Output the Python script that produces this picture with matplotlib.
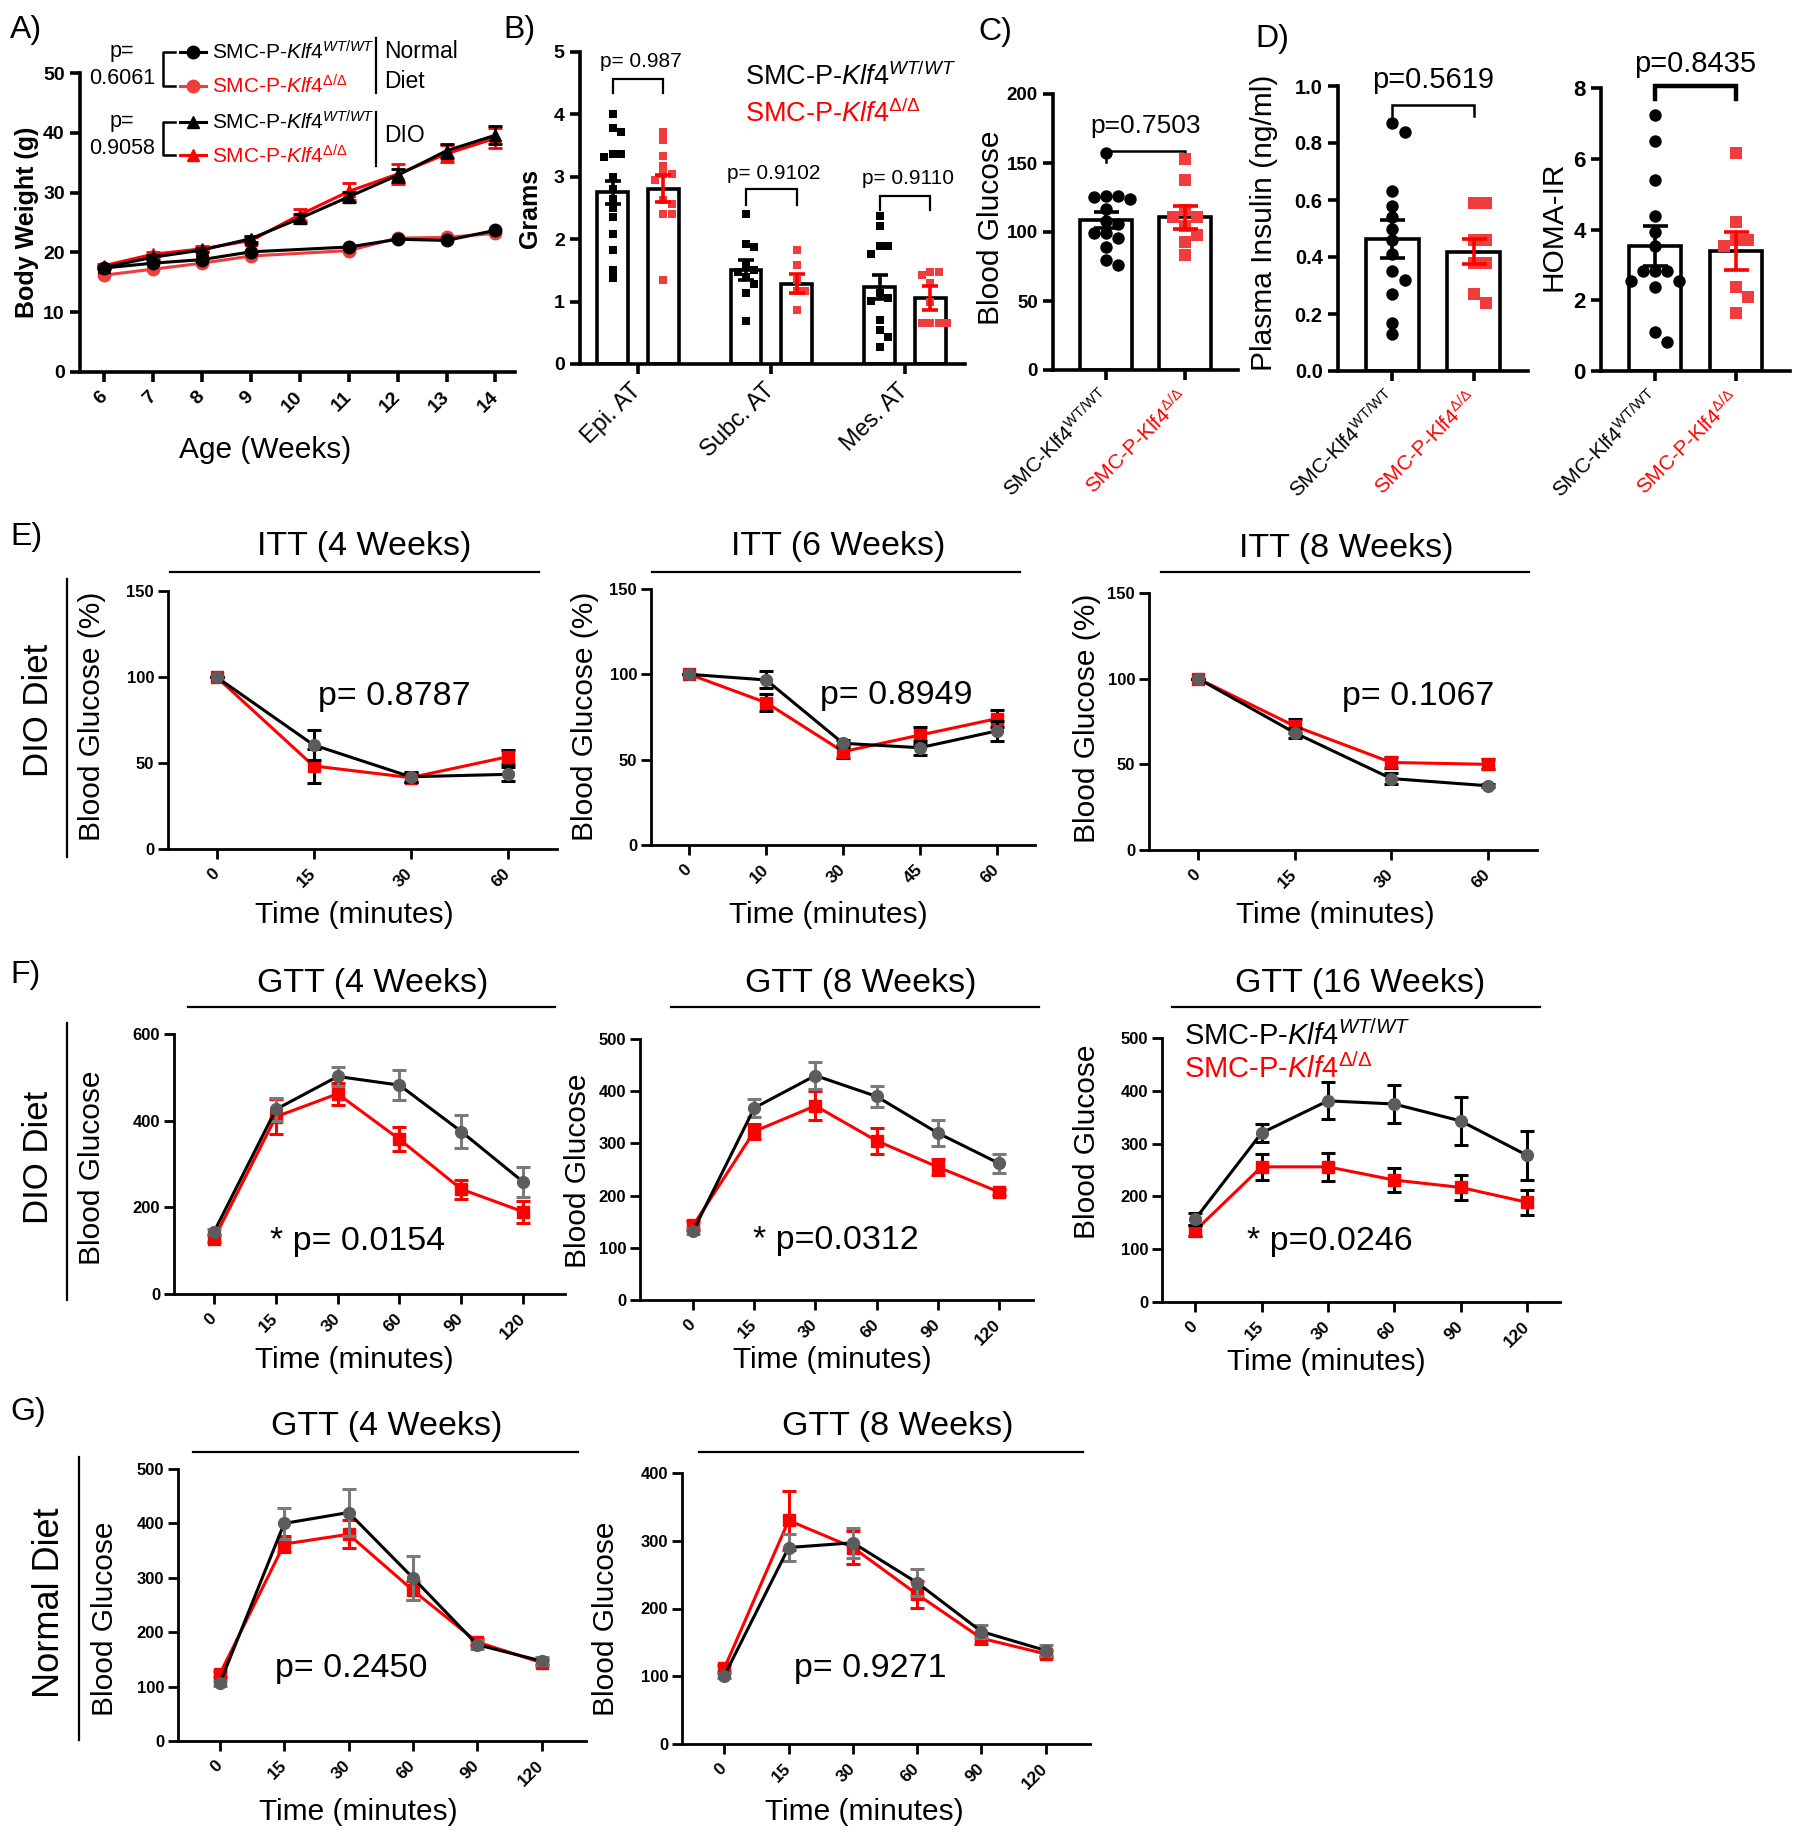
import numpy as np
import matplotlib.pyplot as plt
from matplotlib.lines import Line2D

plt.rcParams['font.family'] = ['Liberation Sans', 'DejaVu Sans']
plt.rcParams['mathtext.fontset'] = 'custom'
plt.rcParams['mathtext.rm'] = 'Liberation Sans'
plt.rcParams['mathtext.it'] = 'Liberation Sans:italic'
plt.rcParams['mathtext.bf'] = 'Liberation Sans:bold'

RED = '#ff0000'
LRED = '#f03c3c'
GRAY = '#5c5c5c'
EGRAY = '#7a7a7a'

WT_LAB = r'SMC-P-$\mathit{Klf4}^{\mathit{WT/WT}}$'
KO_LAB = r'SMC-P-$\mathit{Klf4}^{\mathit{Δ/Δ}}$'
WT_TICK = r'SMC-Klf4$^{\mathrm{WT/WT}}$'
KO_TICK = r'SMC-P-Klf4$^{\mathrm{Δ/Δ}}$'

# ---- A) body weight
weeks_dio = [6, 7, 8, 9, 10, 11, 12, 13, 14]
weeks_nd = [6, 7, 8, 9, 11, 12, 13, 14]
nd_wt = [17.4, 18.2, 18.8, 20.1, 20.9, 22.2, 22.0, 23.7]
nd_ko = [16.2, 17.2, 18.2, 19.4, 20.3, 22.4, 22.5, 23.2]
dio_wt = [17.5, 19.2, 20.4, 22.3, 25.7, 29.3, 32.9, 37.0, 39.6]
dio_ko = [17.8, 19.7, 20.6, 22.0, 26.3, 30.2, 33.1, 36.5, 39.1]
dio_wt_err = [0.3, 0.4, 0.4, 0.5, 0.7, 0.8, 1.1, 1.2, 1.5]
dio_ko_err = [0.3, 0.4, 0.4, 0.6, 1.0, 1.4, 1.6, 1.4, 1.7]

# ---- B) fat pads
fat_groups = ['Epi. AT', 'Subc. AT', 'Mes. AT']
fat_wt_pts = [[4.0, 3.78, 3.72, 3.36, 3.36, 3.32, 3.0, 2.8, 2.65, 2.5, 2.35, 2.09, 1.83, 1.51, 1.38],
              [2.40, 1.93, 1.87, 1.58, 1.50, 1.47, 1.40, 1.29, 1.13, 0.69],
              [2.37, 2.21, 1.89, 1.89, 1.77, 1.13, 1.05, 1.01, 0.71, 0.54, 0.44, 0.28]]
fat_ko_pts = [[3.71, 3.59, 3.34, 3.18, 3.04, 3.04, 2.95, 2.63, 2.56, 2.41, 2.41, 1.35],
              [1.83, 1.58, 1.35, 1.17, 1.17, 0.87],
              [1.48, 1.48, 1.43, 1.30, 1.0, 0.66, 0.66, 0.66, 0.66]]
fat_wt_mean = [2.75, 1.50, 1.23]
fat_ko_mean = [2.81, 1.29, 1.06]
fat_wt_sem = [0.19, 0.16, 0.19]
fat_ko_sem = [0.22, 0.16, 0.19]
fat_p = ['p= 0.987', 'p= 0.9102', 'p= 0.9110']

# ---- C) fasting glucose, D) insulin and HOMA-IR
glu_wt = [157, 126, 126, 125, 124, 117, 108, 106, 99, 99, 96, 89, 80, 76]
glu_ko = [153, 138, 116, 111, 111, 104, 98, 93, 83]
glu_mean = [108.7, 110.6]
glu_sem = [6, 8.5]
ins_wt = [0.87, 0.84, 0.63, 0.58, 0.54, 0.50, 0.46, 0.41, 0.35, 0.32, 0.27, 0.17, 0.13]
ins_ko = [0.59, 0.59, 0.46, 0.46, 0.38, 0.38, 0.27, 0.24]
ins_mean = [0.463, 0.419]
ins_sem = [0.066, 0.045]
homa_wt = [7.25, 6.5, 5.4, 4.38, 3.94, 3.53, 2.83, 2.83, 2.83, 2.54, 2.54, 2.38, 1.11, 0.83]
homa_ko = [6.17, 4.22, 3.70, 3.70, 3.53, 2.38, 2.08, 1.65]
homa_mean = [3.53, 3.39]
homa_sem = [0.57, 0.54]

# ---- E) ITT
itt4_t = ['0', '15', '30', '60']
itt4_wt, itt4_wt_e = [100, 60.5, 42, 43.4], [0, 8.5, 3, 4]
itt4_ko, itt4_ko_e = [100, 48.3, 41.5, 53.6], [0, 10, 2.5, 4]
itt6_t = ['0', '10', '30', '45', '60']
itt6_wt, itt6_wt_e = [100, 96.7, 59.6, 57, 66.8], [0, 5, 2, 4, 6]
itt6_ko, itt6_ko_e = [100, 83.4, 54.7, 64.4, 74], [0, 5, 4, 5, 5]
itt8_t = ['0', '15', '30', '60']
itt8_wt, itt8_wt_e = [100, 68.4, 41.7, 37.5], [0, 3, 3, 1]
itt8_ko, itt8_ko_e = [100, 72.3, 51.1, 50], [0, 4, 3, 3]

# ---- F) / G) GTT
gtt_t = ['0', '15', '30', '60', '90', '120']
gdio4_wt, gdio4_wt_e = [144, 426, 502, 482, 375, 259], [6, 27, 22, 35, 38, 35]
gdio4_ko, gdio4_ko_e = [128, 409, 462, 357, 242, 190], [8, 40, 25, 28, 22, 25]
gdio8_wt, gdio8_wt_e = [132, 368, 430, 390, 320, 262], [5, 18, 25, 20, 25, 18]
gdio8_ko, gdio8_ko_e = [143, 323, 372, 305, 255, 207], [8, 15, 28, 25, 15, 5]
gdio16_wt, gdio16_wt_e = [157, 320, 381, 375, 343, 278], [12, 17, 35, 36, 45, 46]
gdio16_ko, gdio16_ko_e = [135, 256, 256, 231, 217, 189], [10, 24, 27, 22, 24, 24]
gnd4_wt, gnd4_wt_e = [106, 400, 420, 300, 177, 147], [4, 28, 43, 40, 8, 8]
gnd4_ko, gnd4_ko_e = [123, 362, 380, 277, 182, 144], [6, 15, 26, 18, 5, 5]
gnd8_wt, gnd8_wt_e = [101, 290, 297, 238, 166, 138], [4, 20, 22, 20, 10, 8]
gnd8_ko, gnd8_ko_e = [112, 330, 290, 221, 156, 133], [5, 44, 25, 20, 8, 5]

W, H = 1800, 1836
fig = plt.figure(figsize=(18, 18.36), dpi=100)


def px_ax(x0, y_top, x1, y_bot):
    return fig.add_axes([x0 / W, 1 - y_bot / H, (x1 - x0) / W, (y_bot - y_top) / H])


def ftext(x, y, s, **kw):
    fig.text(x / W, 1 - y / H, s, **kw)


def fline(xs, ys, **kw):
    fig.add_artist(Line2D([v / W for v in xs], [1 - v / H for v in ys], **kw))


def style(ax, lw=2.2, ysize=13, xsize=13, xbold=True):
    for s in ['top', 'right']:
        ax.spines[s].set_visible(False)
    for s in ['left', 'bottom']:
        ax.spines[s].set_linewidth(lw)
    ax.tick_params(width=lw, length=7, pad=4)
    ax.tick_params(axis='y', labelsize=ysize)
    ax.tick_params(axis='x', labelsize=xsize)
    for lab in ax.get_yticklabels():
        lab.set_fontweight('bold')
    if xbold:
        for lab in ax.get_xticklabels():
            lab.set_fontweight('bold')


def swarm(vals, dx, dy):
    placed = []
    out = []
    cands = [0.0]
    for i in range(1, 12):
        cands += [i * dx, -i * dx]
    for v in vals:
        for c in cands:
            if all(abs(c - px) > dx * 0.95 or abs(v - pv) > dy for px, pv in placed):
                break
        placed.append((c, v))
        out.append(c)
    return np.array(out)


def bars_dots(ax, xs, means, sems, pts, width, ptcol, errcol, marker, s, dx, dy, cap, lw=2.6):
    ax.bar(xs, means, width, facecolor='white', edgecolor='black', lw=lw, zorder=2)
    for x, p in zip(xs, pts):
        ax.scatter(x + swarm(p, dx, dy), p, s=s, marker=marker, color=ptcol, zorder=3, linewidths=0)
    ax.errorbar(xs, means, yerr=sems, fmt='none', ecolor=errcol, elinewidth=lw, capsize=cap,
                capthick=lw, zorder=4)


def bracket(ax, x0, x1, ylow, ytop, lw=1.8):
    ax.plot([x0, x0, x1, x1], [ylow, ytop, ytop, ylow], color='black', lw=lw, clip_on=False,
            solid_joinstyle='miter')


# ================= A =================
ax = px_ax(80, 73, 515, 372)
ax.errorbar(weeks_nd, nd_ko, color=LRED, lw=2.2, marker='o', ms=9, zorder=3)
ax.errorbar(weeks_nd, nd_wt, color='black', lw=2.2, marker='o', ms=9, zorder=4)
ax.errorbar(weeks_dio, dio_ko, yerr=dio_ko_err, color=RED, lw=2.2, marker='^', ms=9,
            capsize=5, elinewidth=2, capthick=2, zorder=3)
ax.errorbar(weeks_dio, dio_wt, yerr=dio_wt_err, color='black', lw=2.2, marker='^', ms=9,
            capsize=5, elinewidth=2, capthick=2, zorder=4)
ax.set_xlim(5.5, 14.4)
ax.set_ylim(0, 50)
ax.set_xticks(weeks_dio)
ax.set_xticklabels([str(w) for w in weeks_dio], rotation=45, ha='right', va='center',
                   rotation_mode='anchor')
ax.set_yticks(range(0, 51, 10))
style(ax, lw=2.6, ysize=14, xsize=14)
ax.tick_params(axis='x', pad=9)
ftext(27, 222, 'Body Weight (g)', rotation=90, ha='center', va='center', fontsize=18,
      fontweight='bold')
ftext(265, 458, 'Age (Weeks)', ha='center', va='baseline', fontsize=21.5)

leg_rows = [52, 86, 122, 155]
leg_specs = [('black', 'o', WT_LAB, 'black'), (LRED, 'o', KO_LAB, RED),
             ('black', '^', WT_LAB, 'black'), (RED, '^', KO_LAB, RED)]
for yy, (lc, mk, lab, tc) in zip(leg_rows, leg_specs):
    fline([180, 193, 206], [yy] * 3, color=lc, lw=2.2, marker=mk, ms=9, markevery=[1])
    ftext(212, yy + 8, lab, color=tc, fontsize=15, va='baseline')
for (y0, y1), p in zip([(52, 86), (122, 155)], ['0.6061', '0.9058']):
    fline([175, 163, 163, 175], [y0, y0, y1, y1], color='black', lw=1.8)
    ftext(122, y0, 'p=', ha='center', va='center', fontsize=15.5)
    ftext(122, y0 + 26, p, ha='center', va='center', fontsize=15.5)
fline([376, 376], [38, 93], color='black', lw=1.6)
fline([376, 376], [112, 166], color='black', lw=1.6)
ftext(384, 52, 'Normal', va='center', fontsize=16.5)
ftext(384, 82, 'Diet', va='center', fontsize=16.5)
ftext(384, 136, 'DIO', va='center', fontsize=16.5)

# ================= B =================
ax = px_ax(580, 52, 965, 364)
gx = np.arange(len(fat_groups))
bars_dots(ax, gx - 0.19, fat_wt_mean, fat_wt_sem, fat_wt_pts, 0.23, 'black', 'black', 's', 30,
          0.062, 0.12, 6)
bars_dots(ax, gx + 0.19, fat_ko_mean, fat_ko_sem, fat_ko_pts, 0.23, LRED, RED, 's', 30,
          0.062, 0.12, 6)
ax.set_xlim(-0.434, 2.45)
ax.set_ylim(0, 5)
ax.set_yticks(range(0, 6))
ax.set_xticks(gx)
ax.set_xticklabels(fat_groups, rotation=45, ha='right', va='center', rotation_mode='anchor')
style(ax, lw=2.6, ysize=14, xsize=17, xbold=False)
ax.tick_params(axis='x', pad=10)
for i, (top, low, ty) in enumerate([(4.57, 4.34, 4.76), (2.80, 2.55, 2.97), (2.69, 2.46, 2.88)]):
    bracket(ax, gx[i] - 0.19, gx[i] + 0.19, low, top, lw=1.6)
    ax.text(gx[i] + 0.02, ty, fat_p[i], ha='center', va='baseline', fontsize=15)
ftext(530, 208, 'Grams', rotation=90, ha='center', va='center', fontsize=18, fontweight='bold')
ftext(745, 85, WT_LAB, fontsize=19.5, va='baseline')
ftext(745, 122, KO_LAB, fontsize=19.5, va='baseline', color=RED)


def two_bar(box, ylim, yticks, ylabels, wt_pts, ko_pts, means, sems, dy, ptxt, pb, ylab, ylab_x,
            ylab_y, ysize, brlw):
    ax = px_ax(*box)
    bars_dots(ax, [0], means[:1], sems[:1], [wt_pts], 0.65, 'black', 'black', 'o', 80, 0.15, dy, 9)
    bars_dots(ax, [1], means[1:], sems[1:], [ko_pts], 0.65, LRED, RED, 's', 80, 0.15, dy, 9)
    ax.set_xlim(-0.67, 1.67)
    ax.set_ylim(*ylim)
    ax.set_yticks(yticks)
    ax.set_yticklabels(ylabels)
    ax.set_xticks([0, 1])
    ax.set_xticklabels([WT_TICK, KO_TICK], rotation=45, ha='right', va='center',
                       rotation_mode='anchor')
    ax.get_xticklabels()[1].set_color(RED)
    style(ax, lw=2.6, ysize=ysize, xsize=15, xbold=False)
    ax.tick_params(axis='x', pad=10)
    bracket(ax, 0, 1, pb[0], pb[1], lw=brlw)
    ax.text(0.5, pb[2], ptxt, ha='center', va='baseline', fontsize=pb[3])
    ftext(ylab_x, ylab_y, ylab, rotation=90, ha='center', va='center', fontsize=21.5)
    return ax


two_bar((1053, 94, 1238, 370), (0, 200), range(0, 201, 50), [str(v) for v in range(0, 201, 50)],
        glu_wt, glu_ko, glu_mean, glu_sem, 8, 'p=0.7503', (151, 158.7, 171.5, 19),
        'Blood Glucose', 991, 228, 13.5, 1.8)
yt = np.arange(0, 1.01, 0.2)
two_bar((1338, 86, 1528, 371), (0, 1.0), yt, ['%.1f' % v for v in yt],
        ins_wt, ins_ko, ins_mean, ins_sem, 0.0386, 'p=0.5619', (0.895, 0.933, 0.992, 21),
        'Plasma Insulin (ng/ml)', 1264, 223, 14.5, 1.8)
two_bar((1601, 88, 1790, 371), (0, 8), range(0, 9, 2), [str(v) for v in range(0, 9, 2)],
        homa_wt, homa_ko, homa_mean, homa_sem, 0.31, 'p=0.8435', (7.70, 8.05, 8.45, 21),
        'HOMA-IR', 1553, 226, 16, 3.2)


# ================= E / F / G =================
def curve_panel(box, times, wt, wt_e, ko, ko_e, xlim, ymax, ystep, ecol_wt, ecol_ko,
                title, title_x, title_y, line, ptxt, p_x, p_y, time_x, time_y, ylab, ylab_x, ylab_y):
    ax = px_ax(*box)
    x = np.arange(len(times))
    ax.errorbar(x, ko, yerr=ko_e, color=RED, lw=2.2, marker='s', ms=8, ecolor=ecol_ko,
                elinewidth=2.2, capsize=5, capthick=2.2, zorder=3)
    ax.errorbar(x, wt, yerr=wt_e, color='black', lw=2.2, marker='o', ms=8.5, mfc=GRAY, mec=GRAY,
                ecolor=ecol_wt, elinewidth=2.2, capsize=5, capthick=2.2, zorder=4)
    ax.set_xlim(*xlim)
    ax.set_ylim(0, ymax)
    ax.set_xticks(x)
    ax.set_xticklabels(times, rotation=45, ha='right', va='center', rotation_mode='anchor')
    ax.set_yticks(np.arange(0, ymax + 1, ystep))
    style(ax, lw=2.0, ysize=12, xsize=12.5)
    ax.tick_params(axis='x', pad=9)
    ax.tick_params(axis='y', pad=3)
    ftext(title_x, title_y, title, ha='center', va='baseline', fontsize=24.5)
    fline([line[0], line[1]], [line[2], line[2]], color='black', lw=1.6)
    ftext(p_x, p_y, ptxt, ha='center', va='baseline', fontsize=24.5)
    ftext(time_x, time_y, 'Time (minutes)', ha='center', va='baseline', fontsize=21.5)
    ftext(ylab_x, ylab_y, ylab, rotation=90, ha='center', va='center', fontsize=21.5)
    return ax


BG = 'Blood Glucose'
BGP = 'Blood Glucose (%)'
curve_panel((168, 591, 557, 849), itt4_t, itt4_wt, itt4_wt_e, itt4_ko, itt4_ko_e, (-0.5, 3.51),
            150, 50, 'black', 'black', 'ITT (4 Weeks)', 364, 555, (170, 539, 572),
            'p= 0.8787', 394, 705, 354, 923, BGP, 92, 716)
curve_panel((651, 589, 1035, 845), itt6_t, itt6_wt, itt6_wt_e, itt6_ko, itt6_ko_e, (-0.5, 4.5),
            150, 50, 'black', 'black', 'ITT (6 Weeks)', 838, 555, (652, 1020, 572),
            'p= 0.8949', 896, 704, 828, 923, BGP, 585, 716)
curve_panel((1149, 593, 1537, 850), itt8_t, itt8_wt, itt8_wt_e, itt8_ko, itt8_ko_e, (-0.51, 3.51),
            150, 50, 'black', 'black', 'ITT (8 Weeks)', 1346, 557, (1161, 1529, 572),
            'p= 0.1067', 1418, 705, 1335, 923, BGP, 1087, 718)

curve_panel((174, 1034, 565, 1294), gtt_t, gdio4_wt, gdio4_wt_e, gdio4_ko, gdio4_ko_e,
            (-0.65, 5.68), 600, 200, EGRAY, RED, 'GTT (4 Weeks)', 373, 992, (188, 555, 1007),
            '* p= 0.0154', 358, 1250, 354, 1368, BG, 92, 1168)
curve_panel((640, 1039, 1033, 1300), gtt_t, gdio8_wt, gdio8_wt_e, gdio8_ko, gdio8_ko_e,
            (-0.87, 5.56), 500, 100, EGRAY, RED, 'GTT (8 Weeks)', 861, 992, (671, 1039, 1007),
            '* p=0.0312', 836, 1249, 832, 1368, BG, 578, 1171)
curve_panel((1162, 1038, 1560, 1302), gtt_t, gdio16_wt, gdio16_wt_e, gdio16_ko, gdio16_ko_e,
            (-0.5, 5.5), 500, 100, 'black', 'black', 'GTT (16 Weeks)', 1360, 992,
            (1172, 1540, 1007), '* p=0.0246', 1330, 1250, 1326, 1370, BG, 1087, 1142)
ftext(1184, 1045, WT_LAB, fontsize=21, va='baseline')
ftext(1184, 1078, KO_LAB, fontsize=21, va='baseline', color=RED)

curve_panel((178, 1469, 586, 1741), gtt_t, gnd4_wt, gnd4_wt_e, gnd4_ko, gnd4_ko_e,
            (-0.65, 5.69), 500, 100, EGRAY, RED, 'GTT (4 Weeks)', 387, 1435, (193, 578, 1452),
            'p= 0.2450', 351, 1677, 358, 1820, BG, 105, 1619)
curve_panel((682, 1473, 1090, 1744), gtt_t, gnd8_wt, gnd8_wt_e, gnd8_ko, gnd8_ko_e,
            (-0.66, 5.69), 400, 100, EGRAY, RED, 'GTT (8 Weeks)', 898, 1435, (699, 1083, 1452),
            'p= 0.9271', 870, 1677, 864, 1820, BG, 606, 1619)

# row labels
ftext(38, 710, 'DIO Diet', rotation=90, ha='center', va='center', fontsize=25)
fline([67, 67], [579, 857], color='black', lw=1.6)
ftext(38, 1157, 'DIO Diet', rotation=90, ha='center', va='center', fontsize=25)
fline([67, 67], [1023, 1300], color='black', lw=1.6)
ftext(50, 1603, 'Normal Diet', rotation=90, ha='center', va='center', fontsize=26)
fline([79, 79], [1457, 1740], color='black', lw=1.6)

# panel letters
for lab, x, y in [('A)', 10, 38), ('B)', 503, 38), ('C)', 978, 40), ('D)', 1255, 47),
                  ('E)', 10, 545), ('F)', 10, 983), ('G)', 10, 1420)]:
    ftext(x, y, lab, fontsize=23, va='baseline')

fig.savefig('out.png', dpi=100)
